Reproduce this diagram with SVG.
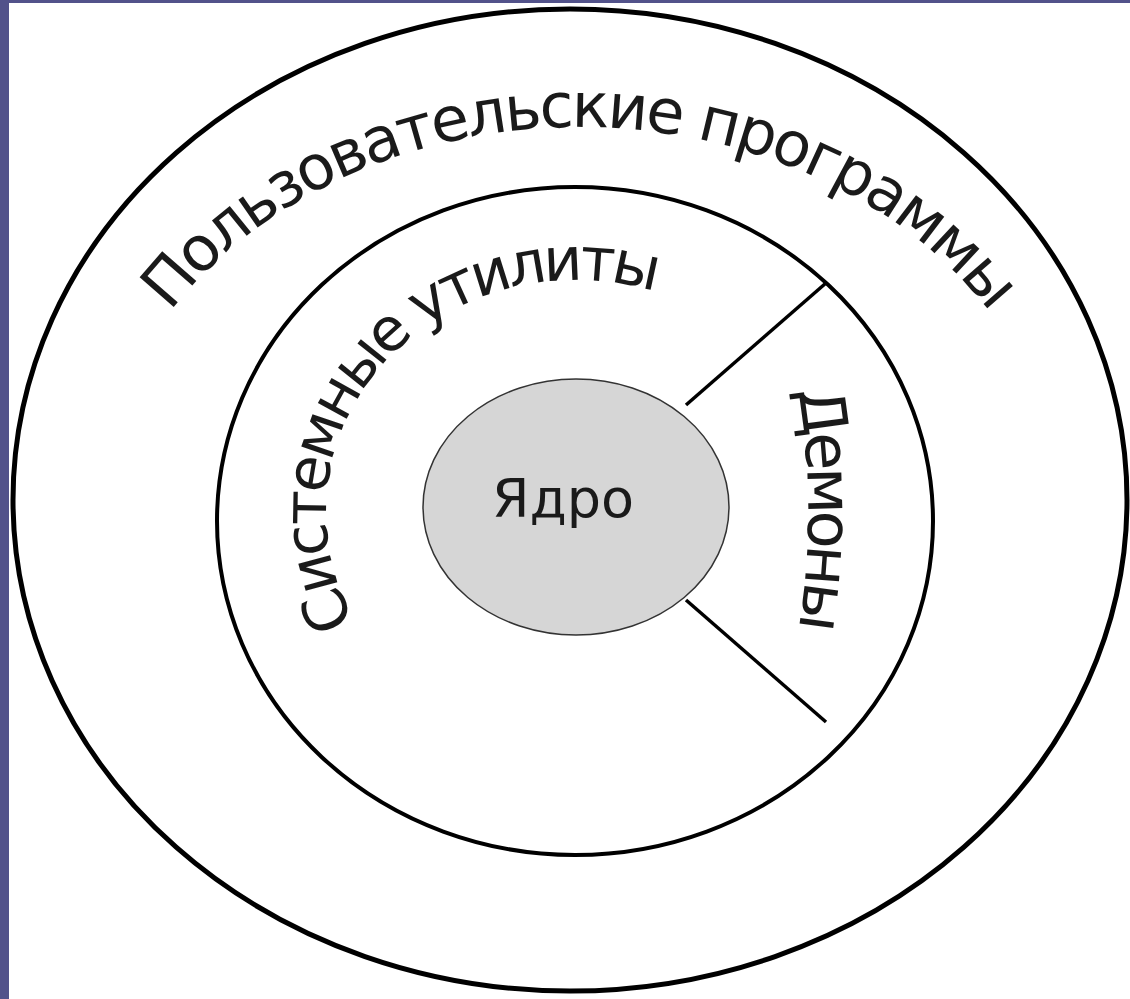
<svg xmlns="http://www.w3.org/2000/svg" width="1130" height="999" viewBox="0 0 1130 999">
<style>
.ring{fill:none;stroke:#000;}
.lbl{font-family:"DejaVu Sans","Liberation Sans",sans-serif;fill:#1a1a1a;}
.div{stroke:#000;stroke-width:3.5;fill:none;}
</style>
<defs>
<path id="pOuter" d="M 95,525 A 485 398 0 0 1 1065,525"/>
<path id="pSys" d="M 576,744 A 250 232 0 0 1 326,512 A 250 232 0 0 1 576,280 A 250 232 0 0 1 826,512"/>
<path id="pDem" d="M 798,390 A 720 720 0 0 1 798,632"/>
</defs>
<rect x="0" y="0" width="1130" height="999" fill="#52528a"/>
<rect x="9" y="3" width="1121" height="996" fill="#ffffff"/>
<g id="connectors">
<line class="div" x1="686" y1="405" x2="826" y2="283"/>
<line class="div" x1="686" y1="600" x2="826" y2="722"/>
</g>
<g id="user-programs">
<ellipse class="ring" cx="570" cy="500" rx="557" ry="491" stroke-width="5"/>
<text class="lbl" font-size="62"><textPath href="#pOuter" startOffset="230" textLength="931" lengthAdjust="spacing">Пользовательские программы</textPath></text>
</g>
<g id="system-utilities">
<ellipse class="ring" cx="575" cy="521" rx="358" ry="334" stroke-width="4"/>
<text class="lbl" font-size="60"><textPath href="#pSys" startOffset="264" textLength="574" lengthAdjust="spacing">Системные утилиты</textPath></text>
</g>
<g id="daemons">
<text class="lbl" font-size="62"><textPath href="#pDem" startOffset="0" textLength="240" lengthAdjust="spacing">Демоны</textPath></text>
</g>
<g id="kernel">
<ellipse cx="576" cy="507" rx="153" ry="128" fill="#d6d6d6" stroke="#333" stroke-width="1.5"/>
<text class="lbl" x="563" y="517" font-size="54" text-anchor="middle">Ядро</text>
</g>
</svg>
